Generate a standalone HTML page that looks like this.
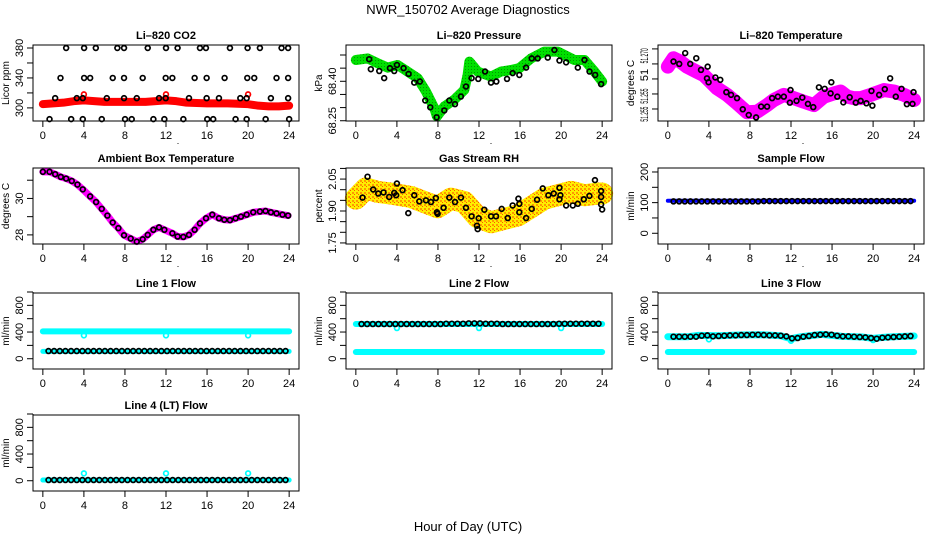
<!DOCTYPE html>
<html><head><meta charset="utf-8"><style>
html,body{margin:0;padding:0;background:#fff;}
svg{display:block;font-family:"Liberation Sans",sans-serif;}
</style></head><body>
<svg id="chart" width="936" height="540" viewBox="0 0 936 540">
<defs>
<pattern id="rhpat" width="4" height="4" patternUnits="userSpaceOnUse">
<rect width="4" height="4" fill="#ffee00"/><rect width="2" height="2" fill="#ff9900"/><rect x="2" y="2" width="1" height="1" fill="#ff5500"/>
</pattern>
<pattern id="grpat" width="3" height="3" patternUnits="userSpaceOnUse">
<rect width="3" height="3" fill="#00e000"/><rect width="1" height="1" fill="#009900"/>
</pattern>
</defs>
<text x="468" y="14" font-size="13" text-anchor="middle">NWR_150702  Average Diagnostics</text>
<text x="468" y="531" font-size="13" text-anchor="middle">Hour of Day (UTC)</text>
</svg>
<script>
// ---------- data ----------
const xTicks = [0,4,8,12,16,20,24];
const flowHours = [0.55,1.1,1.65,2.2,2.75,3.3,3.85,4.4,4.95,5.5,6.05,6.6,7.15,7.7,8.25,8.8,9.35,9.9,10.45,11.0,11.55,12.1,12.65,13.2,13.75,14.3,14.85,15.4,15.95,16.5,17.05,17.6,18.15,18.7,19.25,19.8,20.35,20.9,21.45,22.0,22.55,23.1,23.65];

// CO2
const co2BandHours = [0,1,2,3,4,5,6,8,10,11,12,13,14,16,18,20,21,22,23,24];
const co2BandValues = [305,306,307,309,310,309,308,308,308,309,310,309,307,306,306,305,303,302,302,303];
const co2PtHours = [2.27,4.02,5.16,7.26,7.91,10.22,12.0,13.13,15.31,15.89,18.23,19.95,21.15,23.26,23.9,
 1.72,4.02,4.61,6.81,7.91,9.73,11.97,12.62,14.79,15.96,17.71,19.92,20.6,22.77,23.9,
 1.2,3.31,3.89,6.23,7.91,9.15,11.32,11.97,14.24,15.96,17.16,19.24,19.86,22.22,23.9,
 0.65,2.76,3.89,5.74,8.01,8.66,10.77,11.84,13.69,16.02,16.6,18.78,19.86,21.71,24];
const co2PtValues = [380,380,380,380,380,380,380,380,380,380,380,380,380,380,380,
 340,340,340,340,340,340,340,340,340,340,340,340,340,340,340,
 313,313,313,313,313,313,313,313,313,313,313,313,313,313,313,
 285,285,285,285,285,285,285,285,285,285,285,285,285,285,285];
const co2RedHours = [4,12,20];
const co2RedValues = [318,318,318];

// Pressure
const presBandHours = [0,1.14,2.11,3.09,4.07,5.04,6.02,6.83,7.64,7.9,8.62,9.59,10.57,10.89,11.06,11.87,13.17,14.15,15.12,15.93,17.07,18.37,19.67,20.33,21.3,22.28,23.25,24];
const presBandValues = [68.481,68.487,68.469,68.452,68.462,68.437,68.412,68.361,68.298,68.266,68.304,68.330,68.367,68.424,68.475,68.437,68.418,68.437,68.443,68.450,68.487,68.513,68.513,68.500,68.481,68.481,68.437,68.399];
const presPtHours = [1.30,1.46,2.28,2.76,3.32,3.74,4.0,4.65,5.14,5.69,6.24,6.76,7.25,7.87,8.62,9.11,9.66,10.24,10.73,11.28,11.93,12.59,13.17,13.69,14.73,15.28,15.93,16.59,17.14,17.72,18.7,19.35,19.84,20.49,21.63,22.28,22.77,23.32,23.9];
const presPtValues = [68.484,68.446,68.439,68.412,68.450,68.439,68.462,68.450,68.428,68.395,68.399,68.327,68.301,68.263,68.289,68.327,68.313,68.342,68.380,68.412,68.409,68.437,68.395,68.399,68.409,68.431,68.424,68.452,68.487,68.487,68.490,68.519,68.479,68.472,68.452,68.481,68.437,68.424,68.389];

// Li-820 temperature
const tempBandHours = [0,0.55,1.2,1.86,2.83,3.49,3.97,4.79,5.77,6.74,7.72,8.7,9.67,10.33,11.3,12.28,13.26,14.23,15.21,16.19,16.84,17.49,18.14,18.79,19.77,21.07,22.05,23.03,24];
const tempBandValues = [51.2691,51.2719,51.2708,51.2691,51.2674,51.2663,51.2647,51.2619,51.2597,51.2569,51.2539,51.2541,51.2563,51.2580,51.2597,51.2586,51.2574,51.2563,51.2591,51.2602,51.2608,51.2591,51.2586,51.2586,51.2597,51.2613,51.2608,51.2597,51.2580];
const tempPtHours = [0.55,1.11,1.69,2.18,2.77,3.23,3.88,3.81,3.97,4.63,5.11,5.70,6.16,6.74,7.3,7.88,8.6,9.09,9.67,10.16,10.72,11.3,11.89,11.95,12.54,13.1,13.65,14.17,14.72,15.28,15.86,15.93,16.51,17.1,17.72,18.31,18.79,19.35,19.84,19.93,20.59,21.14,21.66,22.21,22.77,23.29,23.84,23.94];
const tempPtValues = [51.2708,51.2700,51.2736,51.2700,51.2719,51.2680,51.2691,51.2652,51.2639,51.2655,51.2647,51.2606,51.2597,51.2586,51.2549,51.2530,51.2522,51.2558,51.2558,51.2586,51.2591,51.2591,51.2571,51.2613,51.2577,51.2588,51.2567,51.2556,51.2622,51.2617,51.2602,51.2639,51.2591,51.2572,51.2589,51.2571,51.2577,51.2569,51.2610,51.2561,51.2597,51.2616,51.2652,51.2591,51.2617,51.2566,51.2567,51.2606];

// Ambient box temperature
const ambHours = [0,0.65,1.2,1.75,2.27,2.82,3.37,3.89,4.61,5.19,5.74,6.29,6.81,7.36,7.91,8.56,9.15,9.73,10.22,10.77,11.32,11.84,12.62,13.13,13.69,14.24,14.79,15.31,15.9,16.51,17.16,17.68,18.23,18.78,19.3,19.86,20.5,21.15,21.7,22.22,22.77,23.35,23.9];
const ambValues = [31.46,31.46,31.33,31.18,31.09,30.96,30.76,30.5,30.11,29.8,29.43,29.06,28.68,28.37,27.98,27.8,27.63,27.76,28.0,28.28,28.41,28.28,28.09,27.91,27.89,28.0,28.28,28.63,28.91,29.11,28.91,28.83,28.81,28.91,29.0,29.11,29.24,29.28,29.31,29.24,29.18,29.11,29.06];

// Gas stream RH
const rhBandHours = [0,0.98,2.11,3.41,4.39,5.37,6.67,7.97,9.27,10.57,11.87,13.17,14.47,15.77,17.07,18.37,19.67,20.98,22.28,23.58,24];
const rhBandValues = [1.958,2.006,1.990,1.982,1.974,1.966,1.942,1.918,1.958,1.942,1.871,1.847,1.863,1.879,1.918,1.958,1.974,1.990,1.974,1.982,1.982];
const rhPtHours = [1.14,0.65,1.69,2.18,2.7,3.25,3.74,3.93,4.0,4.55,5.11,5.69,6.18,6.83,7.32,7.8,7.9,7.97,8.55,9.11,9.66,10.24,10.73,11.28,11.8,11.87,11.97,12.52,13.17,13.66,14.21,14.8,15.28,15.84,15.93,15.93,16.59,17.14,17.66,18.21,18.76,19.28,19.84,19.84,19.93,20.49,21.14,21.63,22.21,22.76,23.3,23.9,23.9,23.9,24.0];
const rhPtValues = [2.061,1.963,2.001,1.982,1.987,1.966,1.985,1.974,2.029,1.998,1.890,1.974,1.945,1.950,1.942,1.961,1.894,1.887,1.915,1.963,1.942,1.963,1.915,1.875,1.831,1.815,1.866,1.906,1.875,1.875,1.910,1.867,1.926,1.958,1.934,1.894,1.867,1.910,1.953,2.006,1.974,1.982,2.009,1.955,1.974,1.926,1.926,1.934,1.955,1.971,2.045,1.994,1.966,1.931,1.907];

// Sample flow
const sampleBandHours = [0,24];
const sampleBandValues = [106,106];
const samplePtValues = [104,104,104,104,104,104,104,104,104,104,104,104,104,104,104,104,105,105,105,105,105,105,105,105,105,105,105,105,105,105,105,105,105,105,105,105,105,105,105,105,105,105,105];

// Line flows
const line1HighHours = [0,24];
const line1HighValues = [410,410];
const line1LowHours = [0,24];
const line1LowValues = [110,110];
const line1DipHours = [4,12,20];
const line1DipValues = [350,350,350];
const line1PtValues = [115,115,115,115,115,115,115,115,115,115,115,115,115,115,115,115,115,115,115,115,115,115,115,115,115,115,115,115,115,115,115,115,115,115,115,115,115,115,115,115,115,115,115];

const line2HighHours = [0,24];
const line2HighValues = [520,520];
const line2LowHours = [0,24];
const line2LowValues = [100,100];
const line2DipHours = [4,12,20];
const line2DipValues = [460,460,460];
const line2PtValues = [520,520,520,520,520,520,520,520,520,520,520,520,520,520,520,525,525,525,525,530,530,530,525,525,525,520,520,520,520,520,520,520,520,520,520,525,525,525,525,525,525,525,525];

const line3HighHours = [0,2,3,5,7,9,11,12,13,15,17,19,20,21,22,24];
const line3HighValues = [330,330,350,345,355,360,345,300,330,365,335,325,305,320,330,340];
const line3LowHours = [0,24];
const line3LowValues = [100,100];
const line3DipHours = [4,12,20];
const line3DipValues = [290,270,280];
const line3PtValues = [330,330,330,330,330,345,350,335,340,345,350,350,355,355,360,360,355,350,350,345,335,305,310,330,340,355,360,365,360,345,335,335,330,325,320,310,300,315,320,325,330,335,340];

const line4HighHours = [0,24];
const line4HighValues = [10,10];
const line4BumpHours = [4,12,20];
const line4BumpValues = [110,110,110];
const line4PtValues = [10,10,10,10,10,10,10,10,10,10,10,10,10,10,10,10,10,10,10,10,10,10,10,10,10,10,10,10,10,10,10,10,10,10,10,10,10,10,10,10,10,10,10];

// tick definitions
const co2Ticks = [300,320,340,360,380];
const co2TickLabels = ["300","","340","","380"];
const presTicks = [68.25,68.30,68.35,68.40,68.45,68.50];
const presTickLabels = ["68.25","","","68.40","",""];
const tempTicks = [51.275,51.270,51.265,51.260,51.255];
const tempLabelVals = [51.2727,51.2663,51.2593,51.2533];
const tempLabelTexts = ["51.270","51","51.255","51.255"];
const ambTicks = [28,29,30,31];
const ambTickLabels = ["28","","30",""];
const rhTicks = [1.75,1.80,1.85,1.90,1.95,2.00,2.05,2.10];
const rhTickLabels = ["1.75","","","1.90","","","2.05",""];
const sampleTicks = [0,50,100,150,200];
const sampleTickLabels = ["0","","100","","200"];
const flowTicks = [0,200,400,600,800,1000];
const flowTickLabels = ["0","","400","","800",""];

// ---------- drawing ----------
const svg = document.getElementById('chart');
const NS = 'http://www.w3.org/2000/svg';
const colLeft = [33,346,658];
const rowTop = [45,168,293,415];
const PW = 266, PH = 76;
function mk(tag, attrs, parent){
  const e = document.createElementNS(NS, tag);
  for (const k in attrs) e.setAttribute(k, attrs[k]);
  (parent||svg).appendChild(e);
  return e;
}
function makePanel(col,row,ylim,name,title,ylab){
  const left = colLeft[col], top = rowTop[row];
  const g = mk('g',{});
  
  
  const P = {g,left,top,
    sx: h => left + (h+0.96)*PW/25.92,
    sy: v => top + PH - (v-ylim[0])/(ylim[1]-ylim[0])*PH};
  const t = mk('text',{x:left+PW/2,y:top-6,'font-size':11,'font-weight':'bold','text-anchor':'middle'},g);
  t.textContent = title;
  
  
  const yl = mk('text',{x:0,y:0,'font-size':10,'text-anchor':'middle',transform:`translate(${left-24},${top+PH/2}) rotate(-90)`},g);
  yl.textContent = ylab;
  
  
  const xa = mk('g',{},g);
  
  
  mk('line',{x1:P.sx(0),x2:P.sx(24),y1:top+PH,y2:top+PH,stroke:'#000','stroke-width':1},xa);
  xTicks.forEach(v=>{
    const x = P.sx(v);
    mk('line',{x1:x,x2:x,y1:top+PH,y2:top+PH+6,stroke:'#000','stroke-width':1},xa);
    const tl = mk('text',{x:x,y:top+PH+18,'font-size':11,'text-anchor':'middle'},xa);
    tl.textContent = String(v);
  });
  if (row<2) {
    const d = mk('text',{x:left+145,y:top+PH+23,'font-size':9,'text-anchor':'middle'},g);
    d.textContent='.';
  }
  return P;
}
function yAxis(P,name,ticks,labelVals,labelTexts,fit){
  const ya = mk('g',{},P.g);
  
  
  mk('line',{x1:P.left,x2:P.left,y1:P.sy(ticks[0]),y2:P.sy(ticks[ticks.length-1]),stroke:'#000'},ya);
  ticks.forEach(v=>{
    const y=P.sy(v);
    mk('line',{x1:P.left-6,x2:P.left,y1:y,y2:y,stroke:'#000'},ya);
  });
  labelVals.forEach((v,i)=>{
    if(!labelTexts[i]) return;
    const y=P.sy(v);
    const at = {x:0,y:0,'font-size':11,'text-anchor':'middle',transform:`translate(${P.left-10},${y}) rotate(-90)`};
    if (fit && labelTexts[i].length>2) { at.textLength = fit; at.lengthAdjust = 'spacingAndGlyphs'; }
    const tl = mk('text',at,ya);
    tl.textContent = labelTexts[i];
  });
}
function box(P,name){
  const r = mk('rect',{x:P.left,y:P.top,width:PW,height:PH,fill:'none',stroke:'#000','stroke-width':1},P.g);
  
  
}
function band(P,name,hours,vals,color,width){
  const pts = hours.map((h,i)=>P.sx(h)+','+P.sy(vals[i])).join(' ');
  const pl = mk('polyline',{points:pts,fill:'none',stroke:color,'stroke-width':width,'stroke-linejoin':'round','stroke-linecap':'round'},P.g);
  
  
}
function points(P,name,hours,vals,color,r,sw){
  const g = mk('g',{},P.g);
  
  
  hours.forEach((h,i)=>{
    const c = mk('circle',{cx:P.sx(h),cy:P.sy(vals[i]),r:r||2.4,fill:'none',stroke:color,'stroke-width':sw||1.7},g);
    
    
  });
}

// CO2
let P = makePanel(0,0,[282.5,384],'co2','Li\u2013820 CO2','Licor ppm');
band(P,'co2-band',co2BandHours,co2BandValues,'#ff0000',8);
points(P,'co2-red-points',co2RedHours,co2RedValues,'#ff0000');
points(P,'co2-points',co2PtHours,co2PtValues,'#000');
yAxis(P,'co2',co2Ticks,co2Ticks,co2TickLabels); box(P,'co2');

// Pressure
P = makePanel(1,0,[68.249,68.538],'pressure','Li\u2013820 Pressure','kPa');
band(P,'pressure-band',presBandHours,presBandValues,'url(#grpat)',10);
points(P,'pressure-points',presPtHours,presPtValues,'#000');
yAxis(P,'pressure',presTicks,presTicks,presTickLabels); box(P,'pressure');

// Temperature
P = makePanel(2,0,[51.251,51.2763],'li820-temp','Li\u2013820 Temperature','degrees C');
band(P,'li820-temp-band',tempBandHours,tempBandValues,'#ff00ff',14);
points(P,'li820-temp-points',tempPtHours,tempPtValues,'#000');
yAxis(P,'li820-temp',tempTicks,tempLabelVals,tempLabelTexts,15); box(P,'li820-temp');

// Ambient
P = makePanel(0,1,[27.5,31.67],'ambient-temp','Ambient Box Temperature','degrees C');
band(P,'ambient-temp-band',ambHours,ambValues,'#ff00ff',7);
points(P,'ambient-temp-points',ambHours,ambValues,'#000');
yAxis(P,'ambient-temp',ambTicks,ambTicks,ambTickLabels); box(P,'ambient-temp');

// RH
P = makePanel(1,1,[1.745,2.102],'rh','Gas Stream RH','percent');
band(P,'rh-band',rhBandHours,rhBandValues,'url(#rhpat)',22);
points(P,'rh-points',rhPtHours,rhPtValues,'#000');
yAxis(P,'rh',rhTicks,rhTicks,rhTickLabels); box(P,'rh');

// Sample flow
P = makePanel(2,1,[-35,213],'sample-flow','Sample Flow','ml/min');
band(P,'sample-flow-band',sampleBandHours,sampleBandValues,'#0000ff',4);
points(P,'sample-flow-points',flowHours,samplePtValues,'#000');
yAxis(P,'sample-flow',sampleTicks,sampleTicks,sampleTickLabels); box(P,'sample-flow');

// Line 1
P = makePanel(0,2,[-154,985],'line1','Line 1 Flow','ml/min');
band(P,'line1-high-band',line1HighHours,line1HighValues,'#00ffff',6);
band(P,'line1-low-band',line1LowHours,line1LowValues,'#00ffff',5);
points(P,'line1-dips',line1DipHours,line1DipValues,'#00ffff');
points(P,'line1-points',flowHours,line1PtValues,'#000');
yAxis(P,'line1',flowTicks,flowTicks,flowTickLabels); box(P,'line1');

// Line 2
P = makePanel(1,2,[-154,985],'line2','Line 2 Flow','ml/min');
band(P,'line2-high-band',line2HighHours,line2HighValues,'#00ffff',6);
band(P,'line2-low-band',line2LowHours,line2LowValues,'#00ffff',6);
points(P,'line2-dips',line2DipHours,line2DipValues,'#00ffff');
points(P,'line2-points',flowHours,line2PtValues,'#000');
yAxis(P,'line2',flowTicks,flowTicks,flowTickLabels); box(P,'line2');

// Line 3
P = makePanel(2,2,[-154,985],'line3','Line 3 Flow','ml/min');
band(P,'line3-high-band',line3HighHours,line3HighValues,'#00ffff',7);
band(P,'line3-low-band',line3LowHours,line3LowValues,'#00ffff',6);
points(P,'line3-dips',line3DipHours,line3DipValues,'#00ffff');
points(P,'line3-points',flowHours,line3PtValues,'#000');
yAxis(P,'line3',flowTicks,flowTicks,flowTickLabels); box(P,'line3');

// Line 4
P = makePanel(0,3,[-154,985],'line4','Line 4 (LT) Flow','ml/min');
band(P,'line4-band',line4HighHours,line4HighValues,'#00ffff',5);
points(P,'line4-bumps',line4BumpHours,line4BumpValues,'#00ffff');
points(P,'line4-points',flowHours,line4PtValues,'#000');
yAxis(P,'line4',flowTicks,flowTicks,flowTickLabels); box(P,'line4');
</script>
</body></html>
